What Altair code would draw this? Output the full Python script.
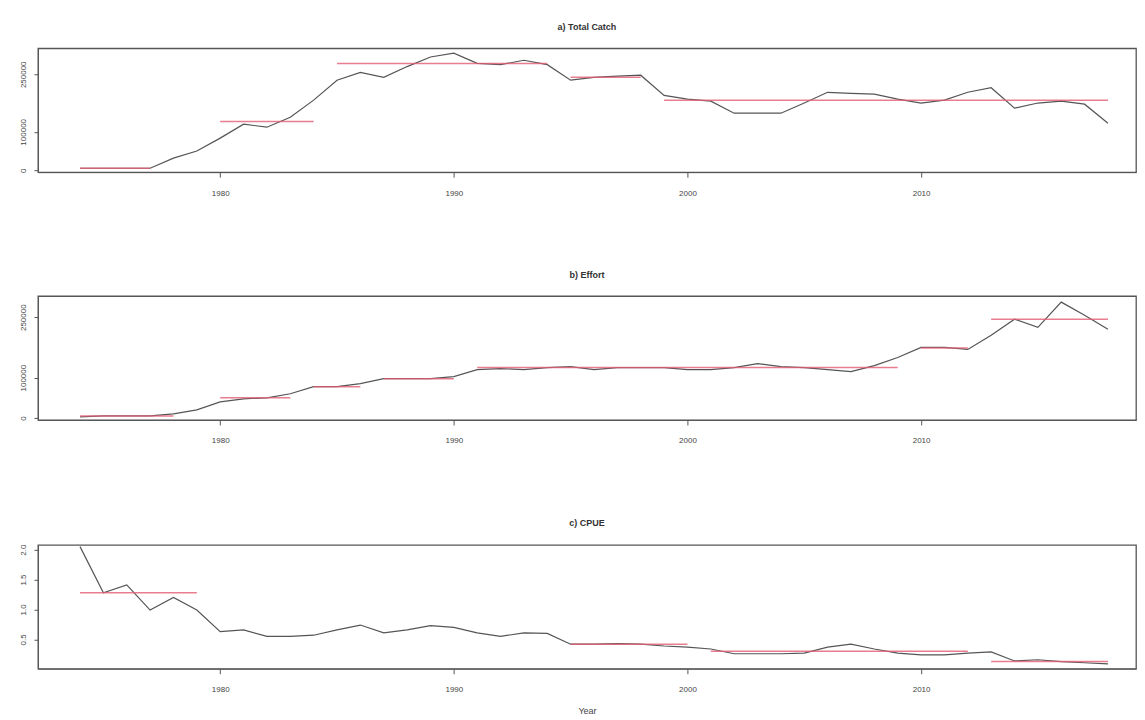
import altair as alt
import pandas as pd

years = list(range(1974, 2019))

catch = [5000, 5000, 5000, 5000, 31500, 50000, 83500, 120000, 112000, 138000,
         182500, 234500, 255000, 242000, 270000, 295000, 305000, 278500, 275000, 286500,
         275000, 234500, 242000, 245000, 247500, 195000, 185000, 180000, 148500, 148500,
         148500, 175000, 203000, 200000, 198000, 185000, 175000, 182500, 203000, 215000,
         161500, 175000, 180000, 172000, 122500]

effort = [2500, 5000, 5000, 5000, 10000, 20000, 40000, 47500, 50000, 60000,
          77500, 77500, 85000, 97500, 97500, 97500, 102500, 120000, 122500, 120000,
          125000, 127500, 120000, 125000, 125000, 125000, 120000, 120000, 125000, 135000,
          127500, 125000, 120000, 115000, 130000, 150000, 175000, 175000, 170000, 205000,
          245000, 225000, 287500, 255000, 220000]

cpue = [2.05, 1.28, 1.41, 0.99, 1.20, 0.99, 0.63, 0.66, 0.55, 0.55,
        0.57, 0.66, 0.74, 0.61, 0.66, 0.73, 0.70, 0.61, 0.55, 0.61,
        0.60, 0.42, 0.42, 0.43, 0.42, 0.39, 0.37, 0.34, 0.26, 0.26,
        0.26, 0.27, 0.37, 0.42, 0.34, 0.27, 0.24, 0.24, 0.27, 0.29,
        0.14, 0.16, 0.13, 0.11, 0.09]

# regime shifts (start year, end year, regime mean)
catch_reg_start = [1974, 1980, 1985, 1995, 1999]
catch_reg_end = [1977, 1984, 1994, 1998, 2018]
catch_reg_mean = [5000, 127000, 278000, 242000, 182000]

effort_reg_start = [1974, 1980, 1984, 1987, 1991, 2010, 2013]
effort_reg_end = [1978, 1983, 1986, 1990, 2009, 2012, 2018]
effort_reg_mean = [5000, 50000, 77500, 97500, 125000, 173500, 245000]

cpue_reg_start = [1974, 1995, 2001, 2013]
cpue_reg_end = [1979, 2000, 2012, 2018]
cpue_reg_mean = [1.28, 0.42, 0.30, 0.13]

titles = ["a) Total Catch", "b) Effort", "c) CPUE"]
x_ticks = [1980, 1990, 2000, 2010]
big_labels = [0, 100000, 250000]
cpue_ticks = [0.5, 1.0, 1.5, 2.0]

X_DOMAIN = [1972.2, 2019.2]
W, H = 1099, 124
LINE_COL = "#555555"
RED = "#e25c73"
FONT = "Liberation Sans"


def panel(vals, rs, re_, rm, title, ydomain, ylabels, fmt, show_xtitle):
    d = pd.DataFrame({"year": years, "value": vals})
    r = pd.DataFrame({"start": rs, "end": re_, "mean": rm})
    xaxis = alt.Axis(values=x_ticks, format="d", grid=False, tickSize=5,
                     labelPadding=12, labelFontSize=8, labelColor="#444",
                     domainColor="#555", tickColor="#555",
                     title="Year" if show_xtitle else None,
                     titleFontSize=9, titleFontWeight="normal", titleColor="#444",
                     titlePadding=13)
    yaxis = alt.Axis(values=ylabels, grid=False, tickSize=4, labelPadding=6,
                     labelAngle=270, labelAlign="center", labelBaseline="bottom",
                     labelFontSize=8, labelColor="#444", labelOverlap=False,
                     format=fmt, domainColor="#555", tickColor="#555", title=None)
    xs = alt.Scale(domain=X_DOMAIN, nice=False, zero=False)
    ys = alt.Scale(domain=ydomain, nice=False, zero=False)
    line = alt.Chart(d).mark_line(color=LINE_COL, strokeWidth=1.2).encode(
        x=alt.X("year:Q", scale=xs, axis=xaxis),
        y=alt.Y("value:Q", scale=ys, axis=yaxis),
    )
    rules = alt.Chart(r).mark_rule(color=RED, strokeWidth=1.5, opacity=0.8).encode(
        x=alt.X("start:Q", scale=xs, axis=xaxis),
        x2="end:Q",
        y=alt.Y("mean:Q", scale=ys, axis=yaxis),
    )
    return alt.layer(line, rules).properties(
        width=W, height=H,
        title=alt.TitleParams(title, fontSize=9, fontWeight="bold", color="#333",
                              offset=16, anchor="middle", font=FONT),
    )


p1 = panel(catch, catch_reg_start, catch_reg_end, catch_reg_mean, titles[0],
           [-5200, 317700], big_labels, "d", False)
p2 = panel(effort, effort_reg_start, effort_reg_end, effort_reg_mean, titles[1],
           [-5000, 302500], big_labels, "d", False)
p3 = panel(cpue, cpue_reg_start, cpue_reg_end, cpue_reg_mean, titles[2],
           [0.01, 2.08], cpue_ticks, ".1f", True)

chart = alt.vconcat(p1, p2, p3, spacing=72).properties(
    padding={"left": 11, "top": 14, "right": 0, "bottom": 0}
).configure_view(
    stroke="#555", strokeWidth=1.3
).configure_axis(
    labelFont=FONT, titleFont=FONT
)

chart.save("out.html", embed_options={"renderer": "svg", "actions": False})
